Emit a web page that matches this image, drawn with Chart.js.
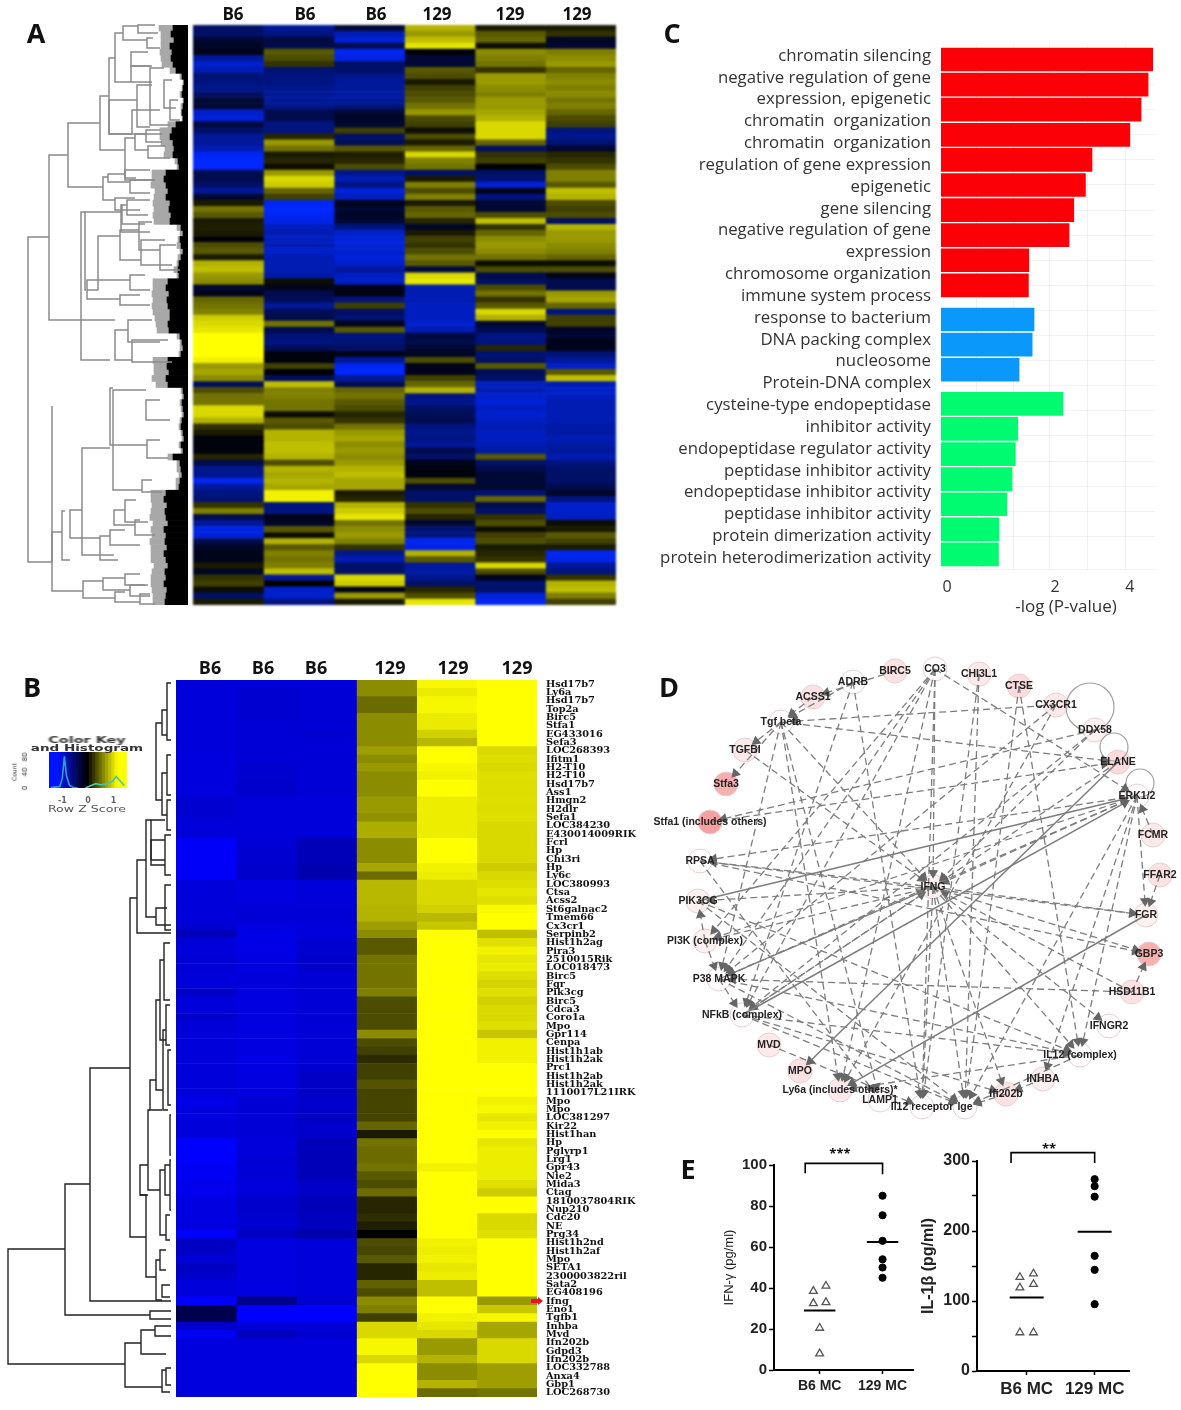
<!DOCTYPE html>
<html>
<head>
<meta charset="utf-8">
<style>
  html, body { margin: 0; background: #fff; }
  #page { position: relative; width: 1181px; height: 1410px; overflow: hidden; }
  canvas { position: absolute; }
  .txt { position: absolute; white-space: nowrap; transform: translate(-50%, -50%); font-family: "Open Sans", sans-serif; color: #111; filter: blur(.3px); }
  .letter { font-size: 27px; font-weight: 700; }
  .col { font-size: 17px; font-weight: 700; }
  .key { font-family: "DejaVu Sans", sans-serif; font-weight: 700; font-size: 9px; color: #333; filter: blur(.5px); }
</style>
<script src="https://cdn.jsdelivr.net/npm/chart.js@4"></script>
</head>
<body>
<div id="page"></div>
<script>
// panel A, z scores per row (96 rows, top to bottom)
const aCol1 = [-.4,-.4,-.2,-.15,-.1,-.6,-.8,-.7,-.45,-.5,
  -.55,-.4,-.2,-.2,-.8,-.85,-.25,-.4,-.6,-.6,
  -.7,-.95,-1,-1,-.3,-.3,-.4,-.6,-.2,.1,
  .45,.35,.1,.12,.1,-.02,.3,.35,.1,.7,
  .75,.6,.55,-.2,-.1,.4,.45,.5,.8,.85,
  .9,1,1,1,1,.95,.6,.65,.55,-.35,
  .3,.45,.45,.85,.85,.7,.2,.1,-.05,-.05,
  -.05,.15,-.3,-.55,-.55,-.95,-.6,-.5,-.45,.2,
  .5,-.3,-.6,-.9,-.85,-.3,-.15,-.1,-.1,.1,
  -.15,.2,.25,.05,-.4,.1];
const aCol2 = [-.6,-.5,-.25,-.3,.35,.3,.2,-.45,-.5,-.5,
  -.55,-.6,-.6,-.55,-.3,-.3,-.5,-.5,.15,.6,
  .45,.1,.15,.05,.6,.85,.8,.4,.25,-.95,
  -1,-.95,-.9,-.75,-.7,-.75,-.7,-.8,-.7,-.7,
  -.7,-.65,.05,-.1,-.3,-.35,-.6,-.35,-.3,.45,
  -.3,-.45,-.5,-.35,-.05,-.05,.25,0,-.35,.75,
  .5,.5,.45,.45,.05,.35,.3,.7,.7,.75,
  .75,.7,.3,.7,.65,.7,.65,.95,.95,-.5,
  -.5,-.1,-.15,.35,.05,.7,.35,.5,.45,.5,
  .75,-.6,0,-.8,-.8,-.5];
const aCol3 = [-.2,-.7,-.85,-.3,-.95,-.9,-.4,-.4,-.55,-.6,
  -.6,-.65,-.6,-.5,-.2,-.15,-.2,.25,-.4,-.35,
  .35,.12,.15,.3,-.55,-.7,-.5,-.85,-.75,-.1,
  -.2,-.15,-.2,-.5,-.8,-.85,-.85,-.8,-.85,-.8,
  -.6,-.75,-.8,-.1,-.05,-.5,.25,-.4,-.45,-.1,
  .35,-.5,-.45,-.4,-.1,-.6,-.95,-1,-.6,-.3,
  .4,.45,.35,.3,.15,.2,.45,.6,.65,.55,
  .6,.55,.6,.7,.75,.65,.65,.1,.15,.7,
  .8,.9,.45,.55,.6,.5,.2,-.55,-.7,-.4,
  -.4,.85,.8,-.1,.6,.1];
const aCol4 = [.7,.6,.75,.9,-.05,-.2,-.2,.35,.3,.1,
  .25,.3,.35,.45,.6,.3,.25,.05,.3,.1,
  .4,.85,.5,.45,-.4,.1,.5,.3,.5,.1,
  .35,.4,.15,-.15,.1,.25,.2,.3,.45,.35,
  -.25,.85,.9,-.7,-.7,-.7,-.75,-.75,-.75,-.8,
  -.7,-.25,-.3,-.2,-.15,.3,-.1,-.1,.25,.4,
  .7,-.5,-.55,-.4,-.35,-.3,-.5,-.55,-.5,-.6,
  -.3,-.4,-.1,-.05,-.05,.3,-.2,-.4,-.4,.2,
  .3,.15,-.2,-.45,-.5,-.95,-.9,.7,.35,-.6,
  -.65,-.55,-.4,.15,.3,.9];
const aCol5 = [.1,.35,.4,.05,.55,.5,.45,.2,.6,.6,
  .55,.5,.6,.6,.65,.7,.85,.85,.85,.4,
  -.4,.2,.25,0,-.4,-.45,-.85,-.1,-.5,-.2,
  -.2,.3,.75,.2,.4,.55,.6,.55,.45,.05,
  .3,-.3,-.4,.3,.45,.2,.35,.85,.7,-.2,
  -.3,-.5,-.5,.15,-.45,-.4,.35,-.35,-.4,-.75,
  -.7,-.8,-.85,-.75,-.8,-.75,-.7,-.75,-.75,-.7,
  -.65,.35,-.4,-.3,-.2,-.2,-.2,-.45,.4,-.3,
  -.4,.2,.3,.05,.25,.3,.1,.15,.2,.85,
  .3,-.1,-.45,-.4,-.85,-.95];
const aCol6 = [.1,.2,-.15,-.2,.5,.55,.6,.4,.5,.55,
  .5,.55,.45,.5,.4,.3,.25,-.5,-.55,-.45,
  -.2,.15,.2,.3,.5,.5,.35,.75,.7,.3,
  .25,.3,-.4,.7,.6,.6,.55,.5,.4,.05,
  .3,-.1,-.3,-.3,.6,.65,.4,-.5,.25,.25,
  -.15,-.2,-.1,-.1,-.45,-.6,-.8,.35,.75,-.7,
  -.8,-.75,-.7,-.7,-.7,-.7,-.65,-.65,-.7,-.65,
  -.6,-.7,-.5,-.4,-.4,-.4,-.3,-.15,-.5,-.8,
  -.8,-.75,.05,.1,.35,.25,.1,-.95,-.9,-.6,
  -.5,.2,.7,.75,.5,.25];
// panel A dendrogram: reach of the leaf mass per row
const aLeafBlack = [15,17,14,18,16,17,15,12,6,4,5,6,4,5,6,5,12,16,18,15,14,15,10,9,22,24,22,20,22,18,19,17,18,7,5,8,7,5,7,9,10,9,20,22,19,21,20,18,18,20,
  19,8,6,5,7,20,21,19,22,20,5,4,6,5,4,6,7,5,4,7,5,15,8,7,6,8,9,22,24,21,23,22,20,24,22,23,21,24,22,20,23,22,24,21,22,23];
const aLeafGray = [14,10,13,9,12,10,11,6,2,1,1,2,1,2,1,1,8,12,10,12,9,9,3,2,14,12,15,13,12,17,15,18,16,4,3,2,4,3,3,2,4,2,15,13,17,14,16,17,15,12,
  12,3,2,3,2,15,13,15,14,12,2,2,2,2,2,2,2,2,2,2,2,5,3,4,3,4,3,15,13,15,14,16,15,13,14,15,16,13,15,14,13,15,13,15,13,12];
// [x of join, y1, y2, x of branch 1, x of branch 2]
const aLinks = [
  [28,237,562,49,52],[49,155,320,68,81],[68,123,187,100,103],[100,96,150,109,125],[109,58,134,115,132],
  [115,33,82,123,131],[123,26,40,138,147],[138,25,33,155,158],[147,38,48,153,160],[131,52,66,148,152],[132,110,134,160,162],[131,66,82,150,152],
  [137,85,127,152,150],[109,100,134,137,132],[150,68,125,164,170],[164,80,108,172,176],[170,100,120,178,180],[125,138,178,135,136],[135,134,150,146,148],[146,130,142,160,162],[148,146,158,166,170],
  [103,177,200,108,115],[108,174,182,125,130],[125,170,180,150,155],[130,180,193,155,150],[115,198,210,135,140],
  [81,212,320,85,81],[85,212,290,121,86],[121,205,232,122,150],[122,205,224,127,145],[127,200,215,150,148],
  [98,236,290,120,87],[120,230,260,139,141],[139,222,250,152,160],[141,240,265,165,172],[160,245,270,176,180],
  [87,280,299,130,120],[130,275,290,145,150],[120,295,305,140,150],[81,320,360,115,110],
  [115,330,360,128,132],[128,320,342,152,160],[132,340,362,168,172],
  [52,406,591,52,83],[52,532,562,62,52],[62,511,560,65,70],[70,510,538,82,100],[82,448,555,110,114],[110,388,445,113,147],
  [113,390,490,146,142],[146,400,420,160,170],[142,480,492,152,162],[147,440,458,160,168],
  [114,510,525,125,135],[125,500,522,136,148],[135,520,535,140,155],[100,536,560,110,118],[110,530,545,125,140],
  [83,581,598,103,115],[103,578,590,125,130],[115,592,602,125,140],[125,574,585,140,148],[130,585,596,145,150],[140,594,604,150,155]
];

// panel B, one label and one z score per row
const bGenes = ['Hsd17b7','Ly6a','Hsd17b7','Top2a','Birc5','Stfa1','EG433016','Sefa3','LOC268393','Ifitm1',
  'H2-T10','H2-T10','Hsd17b7','Ass1','Hmgn2','H2dlr','Sefa1','LOC384230','E430014009RIK','Fcrl',
  'Hp','Chi3ri','Hp','Ly6c','LOC380993','Ctsa','Acss2','St6galnac2','Tmem66','Cx3cr1',
  'Serpinb2','Hist1h2ag','Pira3','2510015Rik','LOC018473','Birc5','Fgr','Pik3cg','Birc5','Cdca3',
  'Coro1a','Mpo','Gpr114','Cenpa','Hist1h1ab','Hist1h2ak','Prc1','Hist1h2ab','Hist1h2ak','1110017L21IRK',
  'Mpo','Mpo','LOC381297','Kir22','Hist1han','Hp','Pglyrp1','Lrg1','Gpr43','Nie2',
  'Mida3','Ctag','1810037804RIK','Nup210','Cdc20','NE','Prg34','Hist1h2nd','Hist1h2af','Mpo',
  'SETA1','2300003822ril','Sata2','EG408196','Ifng','Eno1','Tgfb1','Inhba','Mvd','Ifn202b',
  'Gdpd3','Ifn202b','LOC332788','Anxa4','Gbp1','LOC268730'];
const bCol1 = [-.86,-.86,-.86,-.86,-.86,-.86,-.86,-.86,-.86,-.87,
  -.87,-.87,-.87,-.87,-.82,-.82,-.84,-.86,-.86,-.98,
  -.98,-.98,-.98,-.98,-.86,-.86,-.86,-.86,-.86,-.82,
  -.72,-.86,-.86,-.84,-.84,-.86,-.86,-.78,-.86,-.86,
  -.8,-.84,-.86,-.86,-.86,-.86,-.86,-.86,-.86,-.86,
  -.9,-.88,-.88,-.86,-.86,-1,-1,-1,-.95,-.95,
  -.93,-.93,-.88,-.88,-.88,-.88,-1,-.76,-.78,-.84,
  -.76,-.8,-.86,-.86,-1,-.3,-.3,-.8,-.95,-.87,
  -.87,-.87,-.87,-.87,-.87,-.87];
const bCol2 = [-.86,-.82,-.82,-.82,-.82,-.84,-.84,-.84,-.84,-.84,
  -.82,-.82,-.8,-.8,-.86,-.86,-.86,-.86,-.86,-.84,
  -.82,-.82,-.8,-.8,-.88,-.88,-.88,-.84,-.84,-.88,
  -.9,-.9,-.9,-.88,-.88,-.86,-.86,-.88,-.88,-.88,
  -.88,-.88,-.88,-.88,-.88,-.9,-.88,-.88,-.88,-.88,
  -.84,-.84,-.84,-.84,-.84,-.86,-.86,-.84,-.84,-.84,
  -.86,-.86,-.8,-.8,-.82,-.82,-.76,-.88,-.88,-.88,
  -.88,-.88,-.88,-.88,-.55,-1,-1,-.85,-.75,-.87,
  -.87,-.87,-.87,-.87,-.87,-.87];
const bCol3 = [-.86,-.84,-.84,-.84,-.84,-.84,-.82,-.84,-.84,-.84,
  -.84,-.84,-.84,-.84,-.86,-.86,-.86,-.86,-.86,-.72,
  -.72,-.72,-.7,-.7,-.86,-.86,-.86,-.84,-.84,-.86,
  -.86,-.82,-.82,-.8,-.8,-.84,-.84,-.84,-.84,-.84,
  -.84,-.84,-.84,-.84,-.84,-.84,-.82,-.78,-.78,-.78,
  -.8,-.8,-.78,-.8,-.8,-.72,-.72,-.72,-.72,-.72,
  -.78,-.78,-.72,-.72,-.75,-.75,-.66,-.86,-.86,-.86,
  -.86,-.86,-.86,-.86,-.82,-1,-1,-.85,-.82,-.87,
  -.87,-.87,-.87,-.87,-.87,-.87];
const bCol4 = [.55,.55,.42,.42,.55,.55,.55,.55,.62,.55,
  .6,.55,.55,.55,.6,.6,.57,.68,.68,.55,
  .55,.55,.65,.42,.72,.72,.72,.7,.7,.62,
  .55,.35,.35,.45,.45,.45,.45,.5,.3,.3,
  .3,.3,.55,.3,.25,.17,.25,.25,.33,.27,
  .27,.27,.27,.4,.1,.45,.42,.42,.45,.35,
  .3,.42,.15,.15,.18,.12,0,.3,.28,.35,
  .15,.15,.38,.3,.55,.5,.25,.85,.85,.97,
  .97,.85,1,1,1,1];
const bCol5 = [.97,.92,.97,.97,.92,.92,.82,.72,1,1,
  .97,.95,1,1,.93,.93,.93,.93,.93,1,
  1,1,.95,.93,.85,.85,.85,.82,.72,.78,
  1,1,1,1,1,1,1,1,1,1,
  1,1,1,1,1,1,1,1,1,1,
  1,1,1,1,1,1,1,1,.95,1,
  1,1,1,1,1,1,1,.95,.93,.95,
  .9,.93,.75,.75,1,1,.95,.9,.85,.6,
  .6,.7,.55,.55,.7,.42];
const bCol6 = [1,1,1,1,1,1,1,1,.85,.87,
  .85,.88,.87,.87,.88,.87,.88,.85,.85,.85,
  .85,.85,.8,.85,.87,.9,.87,.98,1,1,
  .75,.88,.95,.9,.92,.87,.83,.88,.82,.85,
  .85,.88,.78,.95,.95,.95,1,1,1,1,
  .95,.97,.9,.95,1,.9,.93,.93,.93,.93,
  .88,.8,1,1,.85,.85,.88,1,1,1,
  1,1,1,1,.6,.78,.97,.65,.65,.85,
  .85,.85,.62,.62,.62,.45];
const bLinks = [
  [8,1249,1364,65,125],[65,1184,1315,90,150],[150,1311,1319,171,171],[90,1068,1301,130,171],
  [130,898,1237,137,146],[137,860,933,146,171],[146,820,917,151,156],[151,820,860,165,165],
  [156,908,925,167,171],[146,1195,1277,140,156],[140,1165,1195,148,148],[148,1110,1190,150,160],
  [150,1080,1110,156,162],[156,1000,1090,160,163],[160,960,1040,164,166],[163,1030,1110,166,168],
  [160,1170,1235,165,166],[165,1165,1195,170,170],[166,1215,1240,170,170],[156,1260,1300,160,162],
  [160,1250,1270,166,166],[162,1285,1297,170,170],
  [125,1343,1387,141,162],[141,1330,1354,155,166],[155,1326,1336,171,171],[162,1370,1392,166,170],[166,1368,1385,171,171],
  [156,723,800,162,162],[162,710,735,167,167],[162,773,815,167,167],[167,683,740,171,171],[167,755,795,171,171],
  [167,800,830,171,171],[151,840,865,165,165],[165,835,875,171,171],[165,885,930,171,171],[164,943,1000,170,170],
  [166,1005,1045,170,170],[168,1050,1105,171,171],[170,1115,1155,171,171],[170,1160,1210,171,171]
];
// colour key under the B title
const keyBins = [-1.5,-1.375,-1.25,-1.125,-1,-.875,-.75,-.625,-.5,-.375,-.25,-.125,0,.125,.25,.375,.5,.625,.75,.875,1,1.125,1.25,1.375,1.5];
const keyHistLow = [[-1.45,1],[-1.1,4],[-1,28],[-.92,88],[-.84,34],[-.72,7],[-.55,1],[-.4,0]];
const keyHistHigh = [[-.1,0],[.1,6],[.3,12],[.5,9],[.75,12],[.95,18],[1.1,32],[1.25,20],[1.42,6]];
const keyTicks = [-1, 0, 1];

// panel C
const cLabels = ['chromatin silencing','negative regulation of gene','expression, epigenetic','chromatin  organization','chromatin  organization',
  'regulation of gene expression','epigenetic','gene silencing','negative regulation of gene','expression','chromosome organization','immune system process',
  'response to bacterium','DNA packing complex','nucleosome','Protein-DNA complex','cysteine-type endopeptidase','inhibitor activity',
  'endopeptidase regulator activity','peptidase inhibitor activity','endopeptidase inhibitor activity','peptidase inhibitor activity',
  'protein dimerization activity','protein heterodimerization activity'];
const cRed = [4.53,4.43,4.28,4.04,3.23,3.09,2.84,2.74,1.88,1.87];
const cBlue = [1.99,1.95,1.67];
const cGreen = [2.61,1.64,1.59,1.52,1.41,1.24,1.23];
const cTickLabels = ['0','2','4'];
const cTickAt = [.13,2.44,4.04];
const cGridAt = [.75,1.56,2.33,3.14,3.95];

// panel D
const netNames = ['CO3','BIRC5','CHI3L1','CTSE','CX3CR1','DDX58','ELANE','ERK1/2','FCMR','FFAR2','FGR','GBP3','HSD11B1','IFNGR2','IL12 (complex)','INHBA','Ifi202b','Ige','Il12 receptor','LAMP1','Ly6a (includes others)*','MPO','MVD','NFkB (complex)','P38 MAPK','PI3K (complex)','PIK3CG','RPSA','Stfa1 (includes others)','Stfa3','TGFBI','Tgf beta','ACSS1','ADRB','IFNG'];
const netX = [935,895,979,1019,1056,1095,1118,1137,1153,1160,1146,1149,1132,1109,1080,1043,1006,965,922,880,840,800,769,742,719,705,698,700,710,726,745,781,813,853,933];
const netY = [669,671,674,686,705,730,762,796,835,875,915,954,992,1026,1055,1079,1094,1107,1107,1100,1090,1071,1045,1015,979,941,901,861,822,784,750,722,697,682,887];
const netExpr = [0,.2,.15,.25,.15,.1,.25,0,.15,.2,.1,.55,.2,0,0,.1,.2,0,0,0,.15,.2,.15,0,0,.1,.1,0,.65,.55,.15,0,.2,0,.1];
const netEdges = [
  ['PIK3CG','ERK1/2',1],['NFkB (complex)','ERK1/2',1],['ELANE','MPO',1],['FGR','Ly6a (includes others)*',1],
  ['CO3','IFNG',0],['CO3','NFkB (complex)',0],['CO3','P38 MAPK',0],['CO3','PI3K (complex)',0],['CO3','ERK1/2',0],['CO3','Ly6a (includes others)*',0],['CO3','Il12 receptor',0],
  ['ADRB','Tgf beta',0],['ADRB','NFkB (complex)',0],['ADRB','Il12 receptor',0],['ACSS1','Tgf beta',0],['BIRC5','ACSS1',0],['Tgf beta','TGFBI',0],['Tgf beta','Stfa3',0],
  ['Tgf beta','IFNG',0],['Tgf beta','ELANE',0],['Tgf beta','P38 MAPK',0],['Tgf beta','Ly6a (includes others)*',0],['Tgf beta','LAMP1',0],['CX3CR1','Tgf beta',0],['CX3CR1','P38 MAPK',0],['CX3CR1','Ly6a (includes others)*',0],
  ['CTSE','Ige',0],['CTSE','IL12 (complex)',0],['CHI3L1','Il12 receptor',0],['CHI3L1','Ige',0],['DDX58','Stfa1 (includes others)',0],['DDX58','NFkB (complex)',0],['DDX58','IFNG',0],
  ['ERK1/2','RPSA',0],['ERK1/2','P38 MAPK',0],['ERK1/2','PI3K (complex)',0],['ERK1/2','IL12 (complex)',0],['ERK1/2','Ige',0],['ERK1/2','INHBA',0],['ERK1/2','FGR',0],['ERK1/2','IFNG',0],
  ['IFNG','GBP3',0],['IFNG','FGR',0],['IFNG','Ige',0],['IFNG','Il12 receptor',0],['IFNG','Ifi202b',0],['IFNG','IL12 (complex)',0],['IFNG','RPSA',0],
  ['IFNG','NFkB (complex)',0],['IFNG','P38 MAPK',0],['IFNG','PI3K (complex)',0],['IFNG','PIK3CG',0],['IFNG','IFNGR2',0],['HSD11B1','GBP3',0],['HSD11B1','P38 MAPK',0],['HSD11B1','IFNG',0],
  ['PIK3CG','IL12 (complex)',0],['PIK3CG','Ige',0],['RPSA','FGR',0],['RPSA','LAMP1',0],['RPSA','GBP3',0],['PI3K (complex)','PIK3CG',0],['PI3K (complex)','P38 MAPK',0],
  ['P38 MAPK','NFkB (complex)',0],['P38 MAPK','IL12 (complex)',0],['P38 MAPK','Ige',0],['NFkB (complex)','Ige',0],['NFkB (complex)','IL12 (complex)',0],['NFkB (complex)','Ifi202b',0],
  ['INHBA','Ifi202b',0],['Ifi202b','Ige',0],['IL12 (complex)','Ly6a (includes others)*',0],['IL12 (complex)','Ige',0],['MVD','Il12 receptor',0],['FCMR','ERK1/2',0],['FFAR2','FGR',0],
  ['TGFBI','IFNG',0],['NFkB (complex)','IFNG',0],['P38 MAPK','IFNG',0],['ELANE','IFNG',0],['Stfa1 (includes others)','ELANE',0]
];
const netLoopX = [1090,1114,1140];
const netLoopY = [707,747,783];

// panel E
const eIfnB6 = [[.9,38.5],[1.1,41],[.9,32.5],[1.1,33],[1,20.5],[1,8]];
const eIfn129 = [85,75.5,63,54,50,45];
const eIfnMeans = [29,62.5];
const eIlB6 = [[.9,134],[1.1,139],[.9,119],[1.1,124],[.9,55],[1.1,55]];
const eIl129 = [274,264,249,164.5,144.5,95.5];
const eIlMeans = [105,199];
const eCats = ['B6 MC','129 MC'];

const page = document.getElementById('page');

Chart.defaults.animation = false;
Chart.defaults.responsive = false;
Chart.defaults.layout.autoPadding = false;
Chart.defaults.plugins.legend.display = false;
Chart.defaults.plugins.tooltip.enabled = false;

function addCanvas(left, top, w, h, blur) {
  const c = document.createElement('canvas');
  c.width = w; c.height = h;
  c.style.left = left + 'px';
  c.style.top = top + 'px';
  c.style.width = w + 'px';
  c.style.height = h + 'px';
  if (blur) c.style.filter = 'blur(' + blur + 'px)';
  page.appendChild(c);
  return c.getContext('2d');
}

function addText(text, x, y, cls, extra) {
  const d = document.createElement('div');
  d.className = 'txt ' + (cls || '');
  d.textContent = text;
  d.style.left = x + 'px';
  d.style.top = y + 'px';
  if (extra) Object.assign(d.style, extra);
  page.appendChild(d);
}

// axis labels must not pull the plot area in
function noAxisPadding(s) {
  s.paddingTop = 0;
  s.paddingBottom = 0;
  s.paddingLeft = 0;
  s.paddingRight = 0;
}

// colours: -1 blue, 0 black, +1 yellow
function zColor(v, green) {
  if (v < 0) return 'rgb(0,' + Math.round(-v * green) + ',' + Math.round(-v * 255) + ')';
  return 'rgb(' + Math.round(v * 255) + ',' + Math.round(v * 255) + ',0)';
}

function heatDatasets(cols, green) {
  return cols.map((col, c) => ({
    data: col.map(() => [c, c + 1]),
    backgroundColor: col.map(v => zColor(v, green)),
    borderWidth: 0,
    grouped: false,
    barPercentage: 1,
    categoryPercentage: 1
  }));
}

// dendrogram links as scatter lines, data space is the picture's own scale
function dendroChart(ctx, links, color, w, yMin, yMax, lw) {
  new Chart(ctx, {
    type: 'scatter',
    data: {
      datasets: links.map(l => ({
        showLine: true,
        data: [{x: l[3], y: l[1]}, {x: l[0], y: l[1]}, {x: l[0], y: l[2]}, {x: l[4], y: l[2]}],
        borderColor: color,
        borderWidth: lw,
        pointRadius: 0
      }))
    },
    options: {
      layout: {padding: 0},
      scales: {
        x: {display: false, min: 0, max: w},
        y: {display: false, min: yMin, max: yMax, reverse: true}
      }
    }
  });
}

// ---------- A ----------
new Chart(addCanvas(100, 25, 88, 580, .6), {
  type: 'bar',
  data: {
    labels: aLeafBlack.map((_, i) => i),
    datasets: [
      {data: aLeafBlack, backgroundColor: '#000', borderWidth: 0, barPercentage: 1, categoryPercentage: 1},
      {data: aLeafGray, backgroundColor: '#a8a8a8', borderWidth: 0, barPercentage: 1, categoryPercentage: 1}
    ]
  },
  options: {
    indexAxis: 'y',
    scales: {
      x: {display: false, min: 0, max: 88, reverse: true, stacked: true},
      y: {display: false, stacked: true}
    }
  }
});
dendroChart(addCanvas(0, 20, 190, 590, .4), aLinks, '#8a8a8a', 190, 20, 610, 1.5);

new Chart(addCanvas(193, 25, 423, 580, .8), {
  type: 'bar',
  data: {
    labels: aCol1.map((_, i) => i),
    datasets: heatDatasets([aCol1, aCol2, aCol3, aCol4, aCol5, aCol6], 40)
  },
  options: {
    indexAxis: 'y',
    scales: {
      x: {display: false, min: 0, max: 6},
      y: {display: false}
    }
  }
});

// ---------- B ----------
dendroChart(addCanvas(0, 670, 176, 740, .3), bLinks, '#222', 176, 670, 1410, 1.4);

const ifngMark = {
  id: 'ifngMark',
  afterDraw(chart) {
    const i = bGenes.indexOf('Ifng');
    const y = chart.scales.y.getPixelForValue(i);
    const x = chart.chartArea.right;
    const g = chart.ctx;
    g.save();
    g.fillStyle = '#f01020';
    g.beginPath();
    g.moveTo(x - 6, y - 2);
    g.lineTo(x + 1, y - 2);
    g.lineTo(x + 1, y - 4);
    g.lineTo(x + 6, y);
    g.lineTo(x + 1, y + 4);
    g.lineTo(x + 1, y + 2);
    g.lineTo(x - 6, y + 2);
    g.fill();
    g.restore();
  }
};

new Chart(addCanvas(176, 680, 470, 717, .35), {
  type: 'bar',
  plugins: [ifngMark],
  data: {
    labels: bGenes,
    datasets: heatDatasets([bCol1, bCol2, bCol3, bCol4, bCol5, bCol6], 0)
  },
  options: {
    indexAxis: 'y',
    scales: {
      x: {display: false, min: 0, max: 6},
      y: {
        position: 'right',
        border: {display: false},
        grid: {display: false, drawTicks: false},
        afterFit: s => { s.width = 109; noAxisPadding(s); },
        ticks: {
          autoSkip: false,
          padding: 9,
          color: '#111',
          font: {family: '"DejaVu Serif"', weight: 'bold', size: 9.8}
        }
      }
    }
  }
});

// colour key
new Chart(addCanvas(30, 748, 110, 66, .5), {
  data: {
    datasets: [
      {
        type: 'scatter', showLine: true, order: 1,
        data: keyHistLow.map(p => ({x: p[0], y: p[1]})),
        borderColor: '#2a9fe0', borderWidth: 1.6, pointRadius: 0
      },
      {
        type: 'scatter', showLine: true, order: 1,
        data: keyHistHigh.map(p => ({x: p[0], y: p[1]})),
        borderColor: '#45c8a8', borderWidth: 1.6, pointRadius: 0
      },
      {
        type: 'bar', order: 2,
        data: keyBins.map(b => ({x: b, y: 100})),
        backgroundColor: keyBins.map(b => zColor(Math.max(-1, Math.min(1, b * .85)), 20)),
        barThickness: 4,
        borderWidth: 0
      }
    ]
  },
  options: {
    layout: {padding: {left: 19, right: 13, top: 4}},
    scales: {
      x: {
        type: 'linear', min: -1.52, max: 1.52, offset: false,
        border: {display: false},
        grid: {display: false},
        afterBuildTicks: s => { s.ticks = keyTicks.map(v => ({value: v})); },
        afterFit: s => { s.height = 26; noAxisPadding(s); },
        ticks: {color: '#666', font: {size: 8, family: '"DejaVu Sans"', weight: 'bold'}, padding: 0, maxRotation: 0}
      },
      y: {display: false, min: 0, max: 100}
    }
  }
});

// ---------- C ----------
const cGroupGap = .36;
function cRows(values, firstRow, gaps) {
  return values.map((v, i) => ({x: v, y: firstRow + i + gaps * cGroupGap}));
}
new Chart(addCanvas(640, 40, 515, 562, .4), {
  type: 'bar',
  data: {
    datasets: [
      {data: cRows(cRed, 0, 0), backgroundColor: '#fb0007'},
      {data: cRows(cBlue, cRed.length, 1), backgroundColor: '#0a99fb'},
      {data: cRows(cGreen, cRed.length + cBlue.length, 2), backgroundColor: '#00fb70'}
    ].map(d => Object.assign(d, {barThickness: 23, borderWidth: 0, grouped: false}))
  },
  options: {
    indexAxis: 'y',
    layout: {padding: {top: 5}},
    scales: {
      x: {
        type: 'linear', min: 0, max: 4.578,
        border: {display: false},
        grid: {display: false},
        afterBuildTicks: s => { s.ticks = cTickAt.map(v => ({value: v})); },
        afterFit: s => { s.height = 33; noAxisPadding(s); },
        ticks: {
          autoSkip: false, maxRotation: 0, padding: 1,
          callback: (v, i) => cTickLabels[i],
          color: '#333', font: {family: '"Open Sans"', size: 16}
        }
      },
      xGrid: {
        type: 'linear', axis: 'x', position: 'bottom', min: 0, max: 4.578,
        border: {display: false},
        afterBuildTicks: s => { s.ticks = cGridAt.map(v => ({value: v})); },
        afterFit: s => { s.height = 0; noAxisPadding(s); },
        ticks: {display: false},
        grid: {color: 'rgba(0,0,0,.06)', drawTicks: false}
      },
      y: {
        type: 'linear', reverse: true, min: -.578, max: 20.3, offset: false,
        position: 'right',
        border: {display: false},
        afterBuildTicks: s => { s.ticks = s.ticks.filter(t => t.value >= 0).map(t => ({value: t.value})); },
        afterFit: s => { s.width = 0; noAxisPadding(s); },
        ticks: {display: false, stepSize: 1},
        grid: {color: 'rgba(0,0,0,.05)', drawTicks: false, offset: false}
      },
      yLabels: {
        type: 'category', axis: 'y', position: 'left', offset: true,
        labels: cLabels,
        border: {display: false},
        grid: {display: false, drawTicks: false},
        afterFit: s => { s.width = 301; noAxisPadding(s); },
        ticks: {autoSkip: false, padding: 10, color: '#333', font: {family: '"Open Sans"', size: 16.8}}
      }
    }
  }
});

// ---------- D ----------
function netPoint(name) {
  const i = netNames.indexOf(name);
  return {x: netX[i], y: netY[i]};
}
function netEdgeDataset(edge) {
  const a = netPoint(edge[0]);
  const b = netPoint(edge[1]);
  const dx = b.x - a.x, dy = b.y - a.y;
  const len = Math.hypot(dx, dy);
  const end = {x: b.x - dx / len * 14, y: b.y - dy / len * 14};
  return {
    type: 'scatter', showLine: true, order: 1,
    data: [a, end],
    borderColor: '#7d7d7d',
    borderWidth: edge[2] ? 1.5 : 1.3,
    borderDash: edge[2] ? [] : [7, 4],
    pointStyle: 'triangle',
    pointRadius: [0, 4.5],
    pointRotation: [0, Math.atan2(dx, -dy) * 180 / Math.PI],
    pointBackgroundColor: '#666',
    pointBorderColor: '#666'
  };
}
const netLabels = {
  id: 'netLabels',
  afterDatasetsDraw(chart) {
    const g = chart.ctx;
    g.save();
    g.font = 'bold 10.5px "Liberation Sans"';
    g.fillStyle = '#222';
    g.textAlign = 'center';
    g.textBaseline = 'middle';
    netNames.forEach((n, i) => {
      g.fillText(n, chart.scales.x.getPixelForValue(netX[i]), chart.scales.y.getPixelForValue(netY[i]));
    });
    g.restore();
  }
};
new Chart(addCanvas(640, 650, 541, 480, .4), {
  type: 'scatter',
  plugins: [netLabels],
  data: {
    datasets: [
      {
        order: 3,
        data: netX.map((x, i) => ({x, y: netY[i]})),
        pointRadius: 12,
        pointBackgroundColor: netExpr.map(v => 'rgba(240,110,110,' + v + ')'),
        pointBorderColor: '#e8cfcf',
        pointBorderWidth: 1
      },
      {
        order: 2,
        data: netLoopX.map((x, i) => ({x, y: netLoopY[i]})),
        pointRadius: [24, 14, 14],
        pointBackgroundColor: 'rgba(0,0,0,0)',
        pointBorderColor: '#a0a0a0',
        pointBorderWidth: 1.2
      }
    ].concat(netEdges.map(netEdgeDataset))
  },
  options: {
    scales: {
      x: {display: false, min: 640, max: 1181},
      y: {display: false, min: 650, max: 1130, reverse: true}
    }
  }
});

// ---------- E ----------
function dotPlot(o) {
  const bracketData = o.bracket.map(p => ({x: p[0], y: p[1]}));
  const meanSet = (v, c, hw) => ({
    showLine: true,
    data: [{x: c - hw, y: v}, {x: c + hw, y: v}],
    borderColor: '#000', borderWidth: 2, pointRadius: 0
  });
  new Chart(addCanvas(o.left, o.top, o.w, o.h, .45), {
    type: 'scatter',
    data: {
      datasets: [
        {
          data: o.b6.map(p => ({x: p[0], y: p[1]})),
          pointStyle: 'triangle', pointRadius: 4.5, pointBorderWidth: 1.3,
          pointBackgroundColor: '#fff', pointBorderColor: '#555'
        },
        {
          data: o.other.map(v => ({x: 2, y: v})),
          pointRadius: o.dot, pointBackgroundColor: '#000', pointBorderColor: '#000'
        },
        meanSet(o.means[0], 1, o.halfWidth),
        meanSet(o.means[1], 2, o.halfWidth),
        {showLine: true, clip: false, data: bracketData, borderColor: '#000', borderWidth: 1.6, pointRadius: 0}
      ]
    },
    options: {
      layout: {padding: {top: o.padTop}},
      scales: {
        x: {
          type: 'linear', min: o.xMin, max: o.xMax,
          border: {color: '#000', width: 2},
          grid: {drawOnChartArea: false, color: '#000', tickWidth: 1.5, tickLength: 4},
          afterBuildTicks: s => { s.ticks = [{value: 1}, {value: 2}]; },
          afterFit: s => { s.height = o.xHeight; noAxisPadding(s); },
          ticks: {
            autoSkip: false, maxRotation: 0, padding: 4,
            callback: (v, i) => eCats[i],
            color: '#222', font: {family: '"Liberation Sans"', weight: 'bold', size: o.catSize}
          }
        },
        y: {
          min: 0, max: o.yMax,
          border: {color: '#000', width: 2},
          grid: {drawOnChartArea: false, color: '#000', tickWidth: 1.5, tickLength: 5},
          afterFit: s => { s.width = o.yWidth; noAxisPadding(s); },
          title: {
            display: true, text: o.title, color: '#222', padding: 0,
            font: {family: '"Liberation Sans"', weight: o.titleWeight, size: o.titleSize}
          },
          ticks: {
            stepSize: o.minor, padding: 2,
            callback: v => (v % (o.minor * 2) === 0 ? v : ''),
            color: '#222', font: {family: '"Liberation Sans"', weight: 'bold', size: o.tickSize}
          }
        }
      }
    }
  });
}
dotPlot({
  left: 722, top: 1140, w: 192, h: 262, padTop: 25, xHeight: 32, yWidth: 52,
  xMin: .274, xMax: 2.5, yMax: 100, minor: 10, b6: eIfnB6, other: eIfn129, means: eIfnMeans, halfWidth: .25,
  bracket: [[.77,96],[.77,100.8],[2,100.8],[2,95.5]], dot: 3.6,
  title: 'IFN-γ (pg/ml)', titleWeight: 'normal', titleSize: 13, tickSize: 15, catSize: 14
});
dotPlot({
  left: 919, top: 1140, w: 211, h: 262, padTop: 21, xHeight: 31, yWidth: 58,
  xMin: .269, xMax: 2.52, yMax: 300, minor: 50, b6: eIlB6, other: eIl129, means: eIlMeans, halfWidth: .25,
  bracket: [[.77,297],[.77,312],[2,312],[2,297]], dot: 3.6,
  title: 'IL-1β (pg/ml)', titleWeight: 'bold', titleSize: 16, tickSize: 16, catSize: 17
});

// ---------- text ----------
addText('A', 36, 32, 'letter');
addText('B', 32, 686, 'letter');
addText('C', 672, 32, 'letter');
addText('D', 669, 686, 'letter');
addText('E', 688, 1168, 'letter');
[['B6',233],['B6',305],['B6',376],['129',437],['129',510],['129',577]].forEach(c => addText(c[0], c[1], 13, 'col'));
[['B6',210],['B6',263],['B6',316],['129',390],['129',453],['129',517]].forEach(c => addText(c[0], c[1], 667, 'col', {fontSize: '18px'}));
addText('-log (P-value)', 1066, 605, '', {fontSize: '17px', color: '#333'});
addText('***', 840, 1153, '', {fontSize: '13px', fontWeight: 700});
addText('**', 1049, 1148, '', {fontSize: '13px', fontWeight: 700});
const keyStretch = 'translate(-50%,-50%) scaleX(';
addText('Color Key', 87, 740, 'key', {transform: keyStretch + '1.6)'});
addText('and Histogram', 87, 748, 'key', {transform: keyStretch + '1.5)'});
addText('Row Z Score', 87, 809, 'key', {fontWeight: 400, color: '#555', transform: keyStretch + '1.4)'});
addText('Count', 14, 772, 'key', {fontWeight: 400, fontSize: '6px', transform: 'translate(-50%,-50%) rotate(-90deg)'});
[['0',788],['40',772],['80',757]].forEach(c => addText(c[0], 25, c[1], 'key', {fontWeight: 400, fontSize: '7px', transform: 'translate(-50%,-50%) rotate(-90deg)'}));
</script>
</body>
</html>
